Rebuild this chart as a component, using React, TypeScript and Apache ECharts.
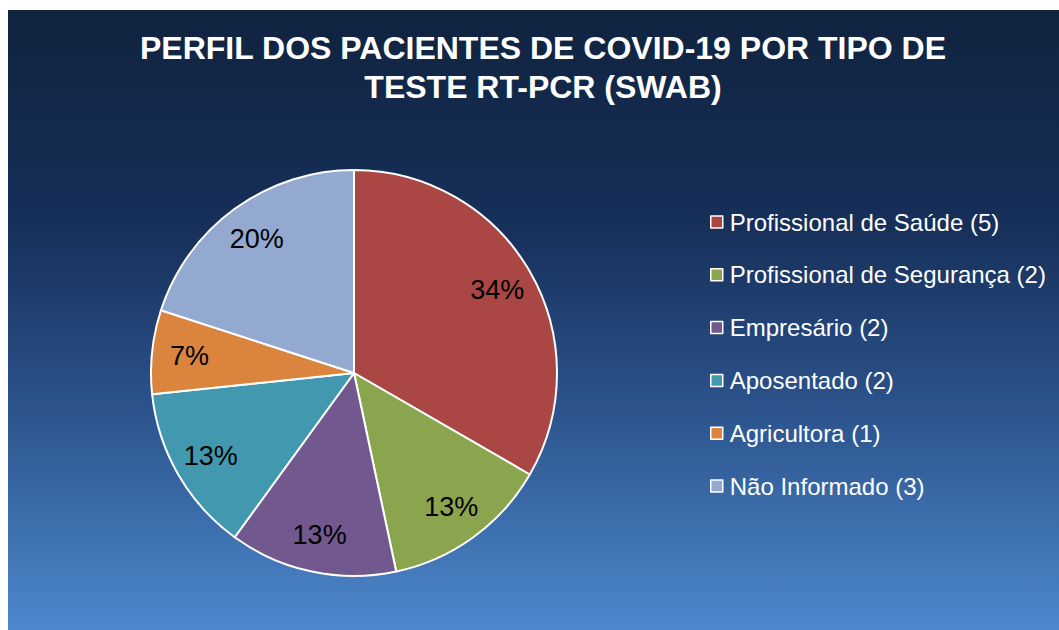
import React, { useEffect, useRef } from "react";
import * as echarts from "echarts";

const titleLines = ["PERFIL DOS PACIENTES DE COVID-19 POR TIPO DE", "TESTE RT-PCR (SWAB)"];
const categories = [
  "Profissional de Saúde (5)",
  "Profissional de Segurança (2)",
  "Empresário (2)",
  "Aposentado (2)",
  "Agricultora (1)",
  "Não Informado (3)",
];
const values = [5, 2, 2, 2, 1, 3];
const percentLabels = ["34%", "13%", "13%", "13%", "7%", "20%"];
const colors = ["#AA4744", "#8BA54E", "#71588F", "#4298AF", "#DB843D", "#93A9CF"];

const FONT = "'Liberation Sans', Arial, sans-serif";

export default function App() {
  const ref = useRef<HTMLDivElement>(null);
  useEffect(() => {
    if (!ref.current) return;
    const chart = echarts.init(ref.current, null, { renderer: "svg" });
    const center = [346, 363];
    const R = 203;
    chart.setOption({
      animation: false,
      backgroundColor: new echarts.graphic.LinearGradient(0, 0, 0, 1, [
        { offset: 0, color: "#10233F" },
        { offset: 0.35, color: "#17305A" },
        { offset: 0.65, color: "#2C548D" },
        { offset: 1, color: "#4D88CC" },
      ]),
      title: {
        text: titleLines.join("\n"),
        left: 530,
        top: 13,
        textAlign: "center",
        textStyle: {
          color: "#FFFFFF",
          fontFamily: FONT,
          fontWeight: "bold",
          fontSize: 32,
          lineHeight: 39,
        },
      },
      legend: {
        orient: "vertical",
        left: 697,
        top: 194,
        itemWidth: 12,
        itemHeight: 12,
        itemGap: 26.8,
        icon: "rect",
        itemStyle: { borderColor: "#FFFFFF", borderWidth: 1.5 },
        textStyle: {
          color: "#FFFFFF",
          fontFamily: FONT,
          fontSize: 24,
          lineHeight: 26,
          padding: [0, 0, 0, 2],
        },
        data: categories,
      },
      series: [
        {
          type: "pie",
          center,
          radius: [0, R],
          startAngle: 90,
          clockwise: true,
          label: { show: false },
          labelLine: { show: false },
          itemStyle: { borderColor: "#FFFFFF", borderWidth: 2 },
          emphasis: { disabled: true },
          data: categories.map((c, i) => ({
            name: c,
            value: values[i],
            itemStyle: { color: colors[i] },
          })),
        },
        {
          type: "pie",
          center,
          radius: [R * 0.6, R],
          startAngle: 90,
          clockwise: true,
          silent: true,
          legendHoverLink: false,
          itemStyle: { color: "rgba(0,0,0,0)", borderWidth: 0 },
          label: {
            show: true,
            position: "inside",
            color: "#000000",
            fontFamily: FONT,
            fontSize: 27,
            formatter: (p: any) => percentLabels[p.dataIndex],
          },
          labelLine: { show: false },
          emphasis: { disabled: true },
          data: categories.map((c, i) => ({ name: "lbl" + i, value: values[i] })),
        },
      ],
    });
    return () => chart.dispose();
  }, []);
  return (
    <div
      ref={ref}
      style={{ position: "fixed", left: 8, top: 10, width: 1051, height: 620 }}
    />
  );
}
